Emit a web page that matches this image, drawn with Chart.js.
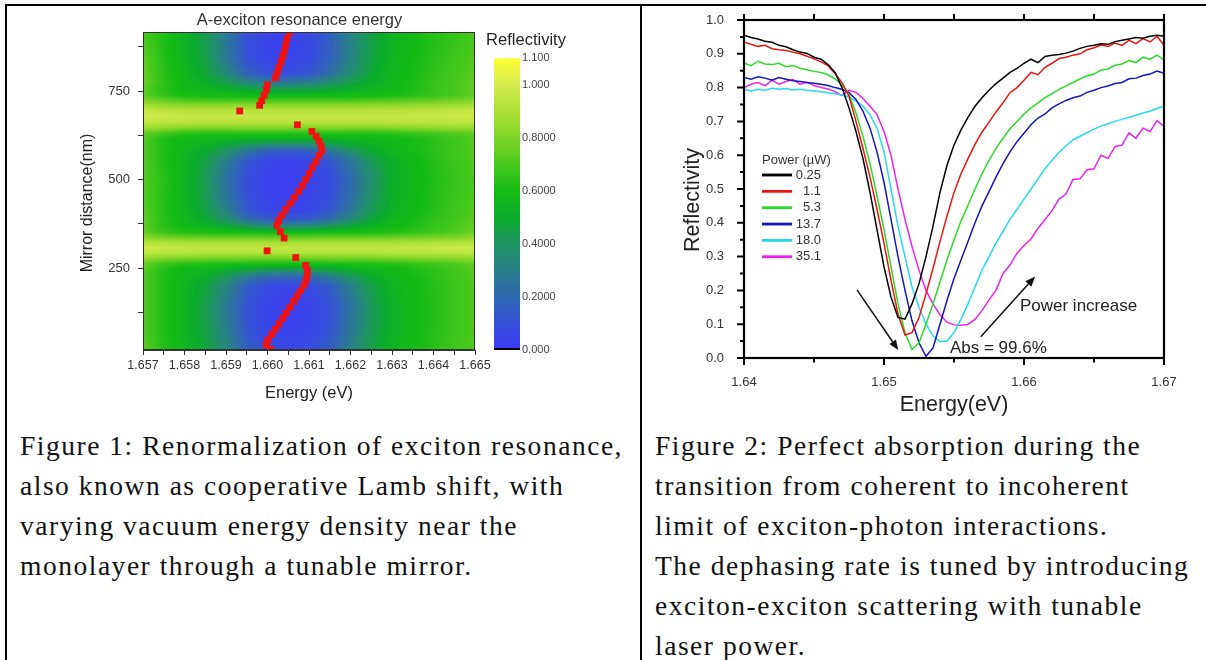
<!DOCTYPE html>
<html><head><meta charset="utf-8">
<script src="https://cdn.jsdelivr.net/npm/chart.js@4.4.1/dist/chart.umd.min.js"></script>
<style>
html,body{margin:0;padding:0;background:#fff;}
body{width:1206px;height:660px;position:relative;overflow:hidden;}
.ln{position:absolute;background:#000;}
#c1{position:absolute;left:0;top:0;}
#c2{position:absolute;left:641px;top:0;}
.cap{position:absolute;font-family:"Liberation Serif",serif;color:#111;line-height:40px;white-space:pre;}
</style></head><body>
<canvas id="c1" width="640" height="420"></canvas>
<canvas id="c2" width="565" height="420"></canvas>
<div class="ln" style="left:5px;top:4px;width:1201px;height:2px"></div>
<div class="ln" style="left:5px;top:4px;width:2px;height:656px"></div>
<div class="ln" style="left:639.5px;top:4px;width:2px;height:656px"></div>
<div class="cap" id="cap1" style="left:20px;top:426px"></div>
<div class="cap" id="cap2" style="left:655px;top:426px"></div>
<script>
// ================= Figure 1 data =================
const heatTitle = 'A-exciton resonance energy';
const heatXTicks = [1.657, 1.6575, 1.658, 1.6585, 1.659, 1.6595, 1.660, 1.6605, 1.661, 1.6615, 1.662, 1.6625, 1.663, 1.6635, 1.664, 1.6645, 1.665];
const heatXTickLabels = ['1.657','','1.658','','1.659','','1.660','','1.661','','1.662','','1.663','','1.664','','1.665'];
const heatYTicks = [125, 250, 375, 500, 625, 750, 875];
const heatYTickLabels = ['', '250', '', '500', '', '750', ''];
const heatEnergy = [1.657, 1.6575, 1.658, 1.6585, 1.659, 1.6595, 1.660, 1.6605, 1.661, 1.6615, 1.662, 1.6625, 1.663, 1.664, 1.665];
const heatDistance = [19, 80, 140, 200, 230, 248, 263, 278, 293, 308, 323, 338, 352, 368, 385, 410, 450, 500, 550, 580, 600, 617, 632, 647, 662, 678, 695, 710, 725, 740, 755, 775, 800, 840, 880, 917];
const heatReflectivity = [
 [0.73,0.63,0.56,0.48,0.34,0.17,0.08,0.06,0.08,0.16,0.31,0.46,0.55,0.64,0.72],
 [0.72,0.62,0.55,0.45,0.30,0.12,0.05,0.03,0.05,0.11,0.26,0.42,0.53,0.63,0.71],
 [0.72,0.62,0.55,0.44,0.28,0.11,0.04,0.02,0.04,0.10,0.24,0.41,0.53,0.63,0.71],
 [0.72,0.62,0.55,0.47,0.33,0.15,0.07,0.05,0.07,0.14,0.30,0.45,0.54,0.63,0.71],
 [0.72,0.62,0.57,0.52,0.43,0.31,0.23,0.21,0.23,0.31,0.42,0.51,0.57,0.64,0.72],
 [0.73,0.63,0.58,0.56,0.53,0.49,0.46,0.45,0.46,0.49,0.53,0.56,0.58,0.65,0.72],
 [0.76,0.68,0.64,0.63,0.62,0.61,0.61,0.61,0.61,0.61,0.62,0.63,0.64,0.68,0.75],
 [0.85,0.81,0.79,0.78,0.78,0.78,0.78,0.78,0.78,0.78,0.78,0.78,0.79,0.81,0.84],
 [0.95,0.93,0.92,0.92,0.92,0.92,0.92,0.92,0.92,0.92,0.92,0.92,0.92,0.93,0.94],
 [0.99,0.97,0.96,0.96,0.96,0.96,0.96,0.96,0.96,0.96,0.96,0.96,0.96,0.97,0.98],
 [0.92,0.90,0.89,0.89,0.89,0.89,0.89,0.89,0.89,0.89,0.89,0.89,0.89,0.90,0.92],
 [0.82,0.77,0.75,0.74,0.74,0.74,0.74,0.74,0.74,0.74,0.74,0.74,0.75,0.77,0.82],
 [0.76,0.67,0.63,0.61,0.60,0.59,0.58,0.58,0.58,0.59,0.60,0.61,0.63,0.68,0.76],
 [0.74,0.64,0.58,0.55,0.50,0.43,0.38,0.37,0.38,0.43,0.49,0.54,0.58,0.66,0.74],
 [0.74,0.64,0.57,0.50,0.39,0.25,0.17,0.15,0.17,0.24,0.36,0.48,0.56,0.65,0.73],
 [0.73,0.63,0.55,0.46,0.32,0.14,0.06,0.05,0.06,0.13,0.27,0.43,0.53,0.63,0.72],
 [0.72,0.63,0.55,0.44,0.26,0.10,0.04,0.02,0.04,0.09,0.22,0.39,0.52,0.63,0.71],
 [0.72,0.64,0.55,0.43,0.24,0.09,0.03,0.02,0.03,0.08,0.20,0.37,0.51,0.62,0.70],
 [0.72,0.62,0.55,0.45,0.29,0.12,0.05,0.03,0.05,0.11,0.25,0.41,0.52,0.63,0.71],
 [0.72,0.62,0.56,0.49,0.39,0.25,0.16,0.13,0.15,0.24,0.37,0.49,0.56,0.64,0.72],
 [0.72,0.62,0.57,0.54,0.49,0.43,0.38,0.36,0.38,0.43,0.49,0.54,0.57,0.64,0.72],
 [0.72,0.62,0.58,0.57,0.56,0.55,0.55,0.55,0.55,0.55,0.56,0.57,0.58,0.64,0.72],
 [0.76,0.70,0.66,0.65,0.65,0.65,0.65,0.65,0.65,0.65,0.65,0.65,0.66,0.70,0.75],
 [0.87,0.84,0.82,0.81,0.81,0.81,0.81,0.81,0.81,0.81,0.81,0.81,0.82,0.84,0.86],
 [0.96,0.94,0.93,0.93,0.93,0.93,0.93,0.93,0.93,0.93,0.93,0.93,0.93,0.94,0.95],
 [0.99,0.98,0.97,0.97,0.97,0.97,0.97,0.97,0.97,0.97,0.97,0.97,0.97,0.97,0.98],
 [0.97,0.94,0.93,0.93,0.93,0.93,0.93,0.93,0.93,0.93,0.93,0.93,0.93,0.94,0.97],
 [0.89,0.85,0.83,0.83,0.83,0.83,0.83,0.83,0.83,0.83,0.83,0.83,0.84,0.85,0.89],
 [0.80,0.74,0.70,0.69,0.69,0.69,0.69,0.69,0.69,0.69,0.69,0.70,0.71,0.74,0.80],
 [0.74,0.65,0.60,0.58,0.58,0.57,0.56,0.56,0.56,0.57,0.58,0.58,0.60,0.66,0.74],
 [0.74,0.64,0.58,0.56,0.52,0.49,0.46,0.45,0.46,0.49,0.52,0.55,0.58,0.66,0.74],
 [0.76,0.65,0.58,0.52,0.44,0.33,0.27,0.26,0.29,0.36,0.45,0.51,0.57,0.66,0.74],
 [0.76,0.64,0.56,0.48,0.35,0.18,0.10,0.09,0.12,0.23,0.36,0.48,0.56,0.65,0.73],
 [0.74,0.63,0.55,0.45,0.28,0.11,0.05,0.04,0.07,0.17,0.32,0.46,0.55,0.64,0.72],
 [0.72,0.62,0.54,0.44,0.27,0.10,0.04,0.03,0.06,0.16,0.31,0.45,0.54,0.63,0.70],
 [0.70,0.62,0.54,0.44,0.28,0.11,0.05,0.04,0.07,0.17,0.32,0.46,0.55,0.63,0.70]
];
const dotEnergy = [1.66007,1.65997,1.66001,1.6601,1.66019,1.66028,1.66037,1.66045,1.66054,1.66063,1.66071,1.66079,1.66088,1.66093,1.66096,1.66096,1.66092,1.66068,1.65999,
 1.6604,1.66031,1.66023,1.66027,1.66035,1.66044,1.66055,1.66064,1.66075,1.66084,1.66092,1.661,1.66108,1.66116,1.66124,1.66131,1.66129,1.66124,1.66117,1.66107,1.66072,
 1.65933,1.65981,1.65986,1.65992,1.65997,1.66,1.66019,1.66023,1.66028,1.66033,1.66037,1.66041,1.66044,1.66047,1.66053];
const dotDistance = [21,34,48,63,78,93,109,124,140,156,171,186,201,216,230,244,258,280,299,
 335,353,371,385,400,416,433,449,466,483,500,517,534,550,568,581,595,609,623,636,655,
 694,710,723,738,754,768,787,801,817,834,848,864,881,898,915];
const cbTitle = 'Reflectivity';
const cbStops = [0, 0.1, 0.2, 0.3, 0.4, 0.5, 0.6, 0.7, 0.8, 0.9, 1.0, 1.1];
const cbColors = ['#3c3cf8','#3650d8','#2f68b0','#28808a','#1f9462','#0aab2c','#14bc14','#48c81c','#80d428','#abe035','#d4ec50','#ffff33'];
const cbTickValues = [0, 0.2, 0.4, 0.6, 0.8, 1.0, 1.1];
const cbTickLabels = ['0.000','0.2000','0.4000','0.6000','0.8000','1.000','1.100'];

// ================= Figure 2 data =================
const energy = [1.640,1.6405,1.641,1.6415,1.642,1.6425,1.643,1.6435,1.644,1.6445,1.645,1.6455,1.646,1.6465,1.647,1.6475,1.648,1.6485,1.649,1.6495,
 1.650,1.6505,1.651,1.6515,1.652,1.6525,1.653,1.6535,1.654,1.6545,1.655,1.6555,1.656,1.6565,1.657,1.6575,1.658,1.6585,1.659,1.6595,
 1.660,1.6605,1.661,1.6615,1.662,1.6625,1.663,1.6635,1.664,1.6645,1.665,1.6655,1.666,1.6665,1.667,1.6675,1.668,1.6685,1.669,1.6695,1.670];
const refl_0_25 = [0.955,0.948,0.944,0.937,0.934,0.925,0.921,0.912,0.905,0.901,0.89,0.884,0.868,0.845,0.80,0.74,0.67,0.59,0.49,0.38,
 0.27,0.18,0.12,0.115,0.16,0.22,0.30,0.39,0.49,0.57,0.63,0.675,0.712,0.745,0.77,0.792,0.812,0.828,0.845,0.857,
 0.872,0.884,0.874,0.892,0.896,0.898,0.902,0.908,0.916,0.922,0.925,0.93,0.928,0.936,0.94,0.944,0.948,0.946,0.952,0.955,0.952];
const refl_1_1 = [0.935,0.928,0.922,0.925,0.915,0.912,0.91,0.905,0.90,0.893,0.885,0.876,0.865,0.842,0.815,0.775,0.70,0.62,0.535,0.44,
 0.34,0.23,0.13,0.068,0.075,0.12,0.19,0.265,0.345,0.42,0.49,0.545,0.59,0.632,0.668,0.698,0.728,0.755,0.785,0.80,
 0.822,0.845,0.838,0.86,0.872,0.886,0.89,0.896,0.90,0.912,0.918,0.926,0.922,0.932,0.925,0.94,0.93,0.945,0.935,0.952,0.925];
const refl_5_3 = [0.873,0.865,0.878,0.87,0.868,0.872,0.862,0.865,0.857,0.853,0.848,0.845,0.838,0.826,0.808,0.78,0.725,0.655,0.575,0.48,
 0.38,0.27,0.16,0.075,0.025,0.045,0.10,0.16,0.225,0.29,0.35,0.405,0.452,0.50,0.545,0.585,0.62,0.65,0.678,0.70,
 0.722,0.74,0.755,0.77,0.782,0.795,0.805,0.815,0.826,0.835,0.84,0.852,0.855,0.866,0.87,0.88,0.874,0.89,0.884,0.896,0.882];
const refl_13_7 = [0.83,0.825,0.832,0.828,0.822,0.83,0.825,0.82,0.818,0.815,0.813,0.81,0.806,0.80,0.795,0.785,0.765,0.73,0.68,0.61,
 0.52,0.41,0.30,0.20,0.11,0.045,0.005,0.03,0.10,0.17,0.235,0.29,0.345,0.40,0.45,0.492,0.535,0.575,0.61,0.64,
 0.665,0.69,0.71,0.722,0.74,0.752,0.762,0.77,0.775,0.786,0.792,0.80,0.805,0.812,0.815,0.826,0.828,0.836,0.84,0.849,0.842];
const refl_18_0 = [0.795,0.79,0.795,0.792,0.798,0.795,0.797,0.793,0.795,0.792,0.79,0.788,0.785,0.782,0.778,0.772,0.76,0.745,0.72,0.68,
 0.61,0.50,0.39,0.30,0.21,0.15,0.10,0.065,0.048,0.05,0.075,0.115,0.16,0.21,0.26,0.30,0.34,0.375,0.41,0.44,
 0.47,0.50,0.53,0.56,0.585,0.608,0.628,0.645,0.656,0.667,0.677,0.686,0.693,0.70,0.706,0.712,0.718,0.725,0.73,0.738,0.745];
const refl_35_1 = [0.80,0.81,0.815,0.806,0.822,0.81,0.818,0.824,0.81,0.816,0.806,0.80,0.796,0.788,0.776,0.792,0.786,0.768,0.745,0.72,
 0.67,0.60,0.50,0.41,0.33,0.26,0.20,0.16,0.128,0.106,0.098,0.097,0.10,0.114,0.14,0.172,0.20,0.25,0.275,0.31,
 0.333,0.352,0.384,0.41,0.436,0.47,0.485,0.528,0.53,0.557,0.56,0.60,0.59,0.626,0.63,0.666,0.65,0.68,0.67,0.702,0.685];
const powerLabels = ['0.25','1.1','5.3','13.7','18.0','35.1'];
const powerSeries = [refl_0_25, refl_1_1, refl_5_3, refl_13_7, refl_18_0, refl_35_1];
const powerColors = ['#000000','#ec1410','#28dc28','#1414c4','#22dcee','#ee22ee'];
const legendTitle = 'Power (\u00b5W)';
const rXTicks = [1.64, 1.65, 1.66, 1.67];
const rXTickLabels = ['1.64','1.65','1.66','1.67'];
const rXMinor = [1.645, 1.655, 1.665];
const rYTicks = [0,0.1,0.2,0.3,0.4,0.5,0.6,0.7,0.8,0.9,1.0];
const rYTickLabels = ['0.0','0.1','0.2','0.3','0.4','0.5','0.6','0.7','0.8','0.9','1.0'];
const rYMinor = [0.05,0.15,0.25,0.35,0.45,0.55,0.65,0.75,0.85,0.95];
const arrowFrom = [[1.64807, 0.2015], [1.65691, 0.0631]];
const arrowTo = [[1.65102, 0.0237], [1.66079, 0.241]];
const noteTexts = ['Power increase', 'Abs = 99.6%'];
const notePos = [[1.65971, 0.152], [1.65471, 0.0287]];

const caption1 = ['Figure 1: Renormalization of exciton resonance,','also known as cooperative Lamb shift, with','varying vacuum energy density near the','monolayer through a tunable mirror.'];
const caption2 = ['Figure 2: Perfect absorption during the','transition from coherent to incoherent','limit of exciton-photon interactions.','The dephasing rate is tuned by introducing','exciton-exciton scattering with tunable','laser power.'];

// ================= helpers =================
const FONT = '"Liberation Sans", Arial, sans-serif';
Chart.defaults.font.family = FONT;
Chart.defaults.color = '#333';
function hexRgb(h){return [parseInt(h.slice(1,3),16),parseInt(h.slice(3,5),16),parseInt(h.slice(5,7),16)];}
const cbRGB = cbColors.map(hexRgb);
function locate(arr, v){
  const n = arr.length;
  if (v <= arr[0]) return [0, 0];
  if (v >= arr[n-1]) return [n-2, 1];
  let i = 0; while (arr[i+1] < v) i++;
  return [i, (v-arr[i])/(arr[i+1]-arr[i])];
}
function colorOf(v){
  const [i,t] = locate(cbStops, v);
  const a = cbRGB[i], b = cbRGB[i+1];
  return [a[0]+(b[0]-a[0])*t, a[1]+(b[1]-a[1])*t, a[2]+(b[2]-a[2])*t];
}
function drawArrow(ctx, x0, y0, x1, y1){
  const ang = Math.atan2(y1-y0, x1-x0), L = 10, W = 4;
  const bx = x1 - L*Math.cos(ang), by = y1 - L*Math.sin(ang);
  ctx.beginPath(); ctx.moveTo(x0,y0); ctx.lineTo(bx,by); ctx.stroke();
  ctx.beginPath(); ctx.moveTo(x1,y1);
  ctx.lineTo(bx + W*Math.sin(ang), by - W*Math.cos(ang));
  ctx.lineTo(bx - W*Math.sin(ang), by + W*Math.cos(ang));
  ctx.closePath(); ctx.fill();
}

// ================= Figure 1 chart =================
const heatPlugin = {
  id: 'heatmap',
  beforeDatasetsDraw(chart){
    const {ctx, chartArea: a, scales: {x, y}} = chart;
    const w = Math.round(a.right - a.left), h = Math.round(a.bottom - a.top);
    const off = document.createElement('canvas'); off.width = w; off.height = h;
    const octx = off.getContext('2d'); const img = octx.createImageData(w, h);
    const cols = [];
    for (let px = 0; px < w; px++) cols.push(locate(heatEnergy, x.getValueForPixel(a.left + px + 0.5)));
    for (let py = 0; py < h; py++){
      const [r, tr] = locate(heatDistance, y.getValueForPixel(a.top + py + 0.5));
      const R0 = heatReflectivity[r], R1 = heatReflectivity[r+1];
      for (let px = 0; px < w; px++){
        const [c, tc] = cols[px];
        const v = (R0[c]*(1-tc) + R0[c+1]*tc)*(1-tr) + (R1[c]*(1-tc) + R1[c+1]*tc)*tr;
        const col = colorOf(v); const k = (py*w + px)*4;
        img.data[k] = col[0]; img.data[k+1] = col[1]; img.data[k+2] = col[2]; img.data[k+3] = 255;
      }
    }
    octx.putImageData(img, 0, 0);
    ctx.drawImage(off, a.left, a.top);
  },
  afterDatasetsDraw(chart){
    const {ctx, chartArea: a} = chart;
    ctx.save(); ctx.strokeStyle = '#333'; ctx.lineWidth = 1;
    ctx.strokeRect(a.left + 0.5, a.top + 0.5, a.right - a.left - 1, a.bottom - a.top - 1);
    ctx.restore();
  },
  afterDraw(chart){
    const {ctx, chartArea: a} = chart;
    ctx.save();
    ctx.fillStyle = '#333'; ctx.font = '16.5px ' + FONT; ctx.textAlign = 'center'; ctx.textBaseline = 'middle';
    ctx.fillText(heatTitle, 299.5, 20);
    ctx.save(); ctx.translate(88, 203); ctx.rotate(-Math.PI/2);
    ctx.fillStyle = '#222'; ctx.font = '16px ' + FONT; ctx.fillText('Mirror distance(nm)', 0, 0); ctx.restore();
    const cbX = 494, cbW = 26, cbBot = a.bottom, cbTop = 58.3, vmax = cbStops[cbStops.length-1];
    const pix = v => cbBot - v/vmax*(cbBot - cbTop);
    const g = ctx.createLinearGradient(0, cbBot, 0, cbTop);
    cbStops.forEach((s,i) => g.addColorStop(s/vmax, cbColors[i]));
    ctx.fillStyle = g; ctx.fillRect(cbX, cbTop, cbW, cbBot - cbTop);
    ctx.fillStyle = '#000'; ctx.fillRect(cbX, cbBot - 2, cbW, 2);
    ctx.fillStyle = '#444'; ctx.font = '11px ' + FONT; ctx.textAlign = 'left';
    cbTickValues.forEach((v,i) => ctx.fillText(cbTickLabels[i], cbX + cbW + 2, pix(v)));
    ctx.fillStyle = '#222'; ctx.font = '16.5px ' + FONT; ctx.textAlign = 'center';
    ctx.fillText(cbTitle, 526, 40);
    ctx.restore();
  }
};

new Chart(document.getElementById('c1'), {
  type: 'scatter',
  data: { datasets: [{
    data: dotEnergy.map((e,i) => ({x: e, y: dotDistance[i]})),
    pointStyle: 'rect', pointRadius: 4.8, pointHoverRadius: 4.8,
    backgroundColor: '#f21212', borderWidth: 0
  }]},
  options: {
    responsive: false, animation: false, events: [],
    layout: { padding: { left: 0, right: 165, top: 32, bottom: 0 } },
    plugins: { legend: { display: false }, tooltip: { enabled: false } },
    scales: {
      x: {
        type: 'linear', position: 'bottom', min: 1.657, max: 1.665,
        afterFit: s => { s.height = 70; },
        afterBuildTicks: s => { s.ticks = heatXTicks.map(v => ({value: v})); },
        ticks: { autoSkip: false, maxRotation: 0, padding: 3.5, font: { size: 12.5 }, color: '#333',
                 callback: (v, i) => heatXTickLabels[i] },
        grid: { drawOnChartArea: false, tickLength: 5, color: '#333' },
        border: { display: true, color: '#333' },
        title: { display: true, text: 'Energy (eV)', color: '#222', font: { size: 16.5 }, padding: { top: 0, bottom: 17 } }
      },
      y: {
        type: 'linear', position: 'left', min: 19, max: 917,
        afterFit: s => { s.width = 143; },
        afterBuildTicks: s => { s.ticks = heatYTicks.map(v => ({value: v})); },
        ticks: { autoSkip: false, padding: 8, font: { size: 13 }, color: '#333',
                 callback: (v, i) => heatYTickLabels[i] },
        grid: { drawOnChartArea: false, tickLength: 5, color: '#333' },
        border: { display: true, color: '#333' }
      }
    }
  },
  plugins: [heatPlugin]
});

// ================= Figure 2 chart =================
const specPlugin = {
  id: 'spectra',
  afterDatasetsDraw(chart){
    const {ctx, chartArea: a, scales: {x, y}} = chart;
    ctx.save();
    ctx.strokeStyle = '#000'; ctx.lineWidth = 2.2;
    ctx.strokeRect(a.left, a.top, a.right - a.left, a.bottom - a.top);
    ctx.lineWidth = 2; ctx.beginPath();
    rYTicks.forEach(v => { const p = y.getPixelForValue(v); ctx.moveTo(a.left, p); ctx.lineTo(a.left - 7, p); });
    rYMinor.forEach(v => { const p = y.getPixelForValue(v); ctx.moveTo(a.left, p); ctx.lineTo(a.left - 4, p); });
    rXTicks.forEach(v => { const p = x.getPixelForValue(v); ctx.moveTo(p, a.bottom); ctx.lineTo(p, a.bottom + 7); ctx.moveTo(p, a.top); ctx.lineTo(p, a.top - 6); });
    rXMinor.forEach(v => { const p = x.getPixelForValue(v); ctx.moveTo(p, a.bottom); ctx.lineTo(p, a.bottom + 4.5); ctx.moveTo(p, a.top); ctx.lineTo(p, a.top - 6); });
    ctx.stroke();
    ctx.restore();
  },
  afterDraw(chart){
    const {ctx, chartArea: a, scales: {x, y}} = chart;
    ctx.save();
    ctx.save(); ctx.translate(52, 200); ctx.rotate(-Math.PI/2);
    ctx.fillStyle = '#222'; ctx.font = '21.5px ' + FONT; ctx.textAlign = 'center'; ctx.textBaseline = 'middle';
    ctx.fillText('Reflectivity', 0, 0); ctx.restore();
    const lx = a.left + 18;
    ctx.fillStyle = '#333'; ctx.font = '13px ' + FONT; ctx.textBaseline = 'middle'; ctx.textAlign = 'left';
    ctx.fillText(legendTitle, lx, 160);
    chart.data.datasets.forEach((ds, i) => {
      const yy = 175 + i*16.35;
      ctx.strokeStyle = ds.borderColor; ctx.lineWidth = 2.8;
      ctx.beginPath(); ctx.moveTo(lx, yy); ctx.lineTo(lx + 30, yy); ctx.stroke();
      ctx.fillStyle = '#333'; ctx.textAlign = 'right';
      ctx.fillText(ds.label, lx + 59, yy);
    });
    ctx.strokeStyle = '#111'; ctx.fillStyle = '#111'; ctx.lineWidth = 1.5;
    arrowFrom.forEach((f, i) => {
      const t = arrowTo[i];
      drawArrow(ctx, x.getPixelForValue(f[0]), y.getPixelForValue(f[1]), x.getPixelForValue(t[0]), y.getPixelForValue(t[1]));
    });
    ctx.fillStyle = '#222'; ctx.font = '17px ' + FONT; ctx.textAlign = 'left'; ctx.textBaseline = 'middle';
    noteTexts.forEach((t, i) => ctx.fillText(t, x.getPixelForValue(notePos[i][0]), y.getPixelForValue(notePos[i][1])));
    ctx.restore();
  }
};

new Chart(document.getElementById('c2'), {
  type: 'line',
  data: { datasets: powerSeries.map((vals, k) => ({
    label: powerLabels[k],
    data: energy.map((e, i) => ({x: e, y: vals[i]})),
    borderColor: powerColors[k], borderWidth: 1.5, pointRadius: 0, tension: 0, fill: false
  }))},
  options: {
    responsive: false, animation: false, events: [],
    layout: { padding: { left: 0, right: 42, top: 20, bottom: 0 } },
    plugins: { legend: { display: false }, tooltip: { enabled: false } },
    scales: {
      x: {
        type: 'linear', position: 'bottom', min: 1.64, max: 1.67,
        afterFit: s => { s.height = 62; },
        afterBuildTicks: s => { s.ticks = rXTicks.map(v => ({value: v})); },
        ticks: { autoSkip: false, maxRotation: 0, padding: 9, font: { size: 13 }, color: '#333',
                 callback: (v, i) => rXTickLabels[i] },
        grid: { display: false }, border: { display: false },
        title: { display: true, text: 'Energy(eV)', color: '#222', font: { size: 21.5 }, padding: { top: 0, bottom: 2 } }
      },
      y: {
        type: 'linear', position: 'left', min: 0, max: 1,
        afterFit: s => { s.width = 103; },
        afterBuildTicks: s => { s.ticks = rYTicks.map(v => ({value: v})); },
        ticks: { autoSkip: false, padding: 12, font: { size: 13 }, color: '#333',
                 callback: (v, i) => rYTickLabels[i] },
        grid: { display: false }, border: { display: false }
      }
    }
  },
  plugins: [specPlugin]
});

// ================= captions =================
(function(){
  const size = 27.5;
  const m = document.createElement('canvas').getContext('2d');
  m.font = size + 'px "Liberation Serif"';
  const w = m.measureText(caption1[0]).width;
  const ls = (603 - w) / caption1[0].length;
  const c1 = document.getElementById('cap1'), c2 = document.getElementById('cap2');
  [c1, c2].forEach(c => { c.style.fontSize = size + 'px'; c.style.letterSpacing = ls + 'px'; });
  c1.textContent = caption1.join('\n'); c2.textContent = caption2.join('\n');
})();
</script>
</body></html>
